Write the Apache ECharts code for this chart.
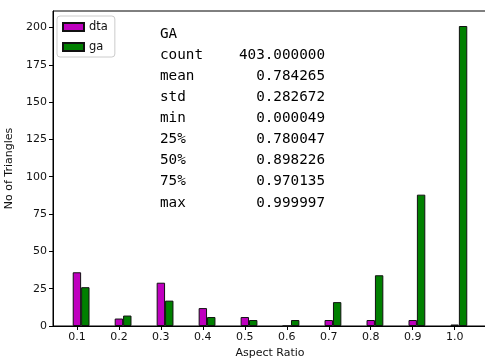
<!DOCTYPE html>
<html>
<head>
<meta charset="utf-8">
<script src="https://cdn.jsdelivr.net/npm/echarts@6/dist/echarts.min.js"></script>
<style>
html,body{margin:0;padding:0;background:#fff;}
#chart{width:485px;height:360px;}
</style>
</head>
<body>
<div id="chart"></div>
<script>
const categories = [0.1, 0.2, 0.3, 0.4, 0.5, 0.6, 0.7, 0.8, 0.9, 1.0];
const dtaValues = [36, 5, 29, 12, 6, 0, 4, 4, 4, 1];
const gaValues = [26, 7, 17, 6, 4, 4, 16, 34, 88, 201];
const seriesNames = ['dta', 'ga'];
const statTitle = 'GA';
const statLabels = ['count', 'mean', 'std', 'min', '25%', '50%', '75%', 'max'];
const statValues = ['403.000000', '0.784265', '0.282672', '0.000049', '0.780047', '0.898226', '0.970135', '0.999997'];
const xAxisName = 'Aspect Ratio';
const yAxisName = 'No of Triangles';

const chart = echarts.init(document.getElementById('chart'), null, {renderer: 'canvas'});

const font = 'DejaVu Sans';
const mono = 'DejaVu Sans Mono';

const statTexts = [];
const lineStep = 21.1;
const y0 = 34;
statTexts.push({type: 'text', x: 160, y: y0,
  style: {text: statTitle, font: '14.3px "' + mono + '"', fill: '#000', textAlign: 'left', textVerticalAlign: 'middle'}});
statLabels.forEach((l, i) => {
  statTexts.push({type: 'text', x: 160, y: y0 + (i + 1) * lineStep,
    style: {text: l, font: '14.3px "' + mono + '"', fill: '#000', textAlign: 'left', textVerticalAlign: 'middle'}});
  statTexts.push({type: 'text', x: 325, y: y0 + (i + 1) * lineStep,
    style: {text: statValues[i], font: '14.3px "' + mono + '"', fill: '#000', textAlign: 'right', textVerticalAlign: 'middle'}});
});

const option = {
  animation: false,
  backgroundColor: '#fff',
  textStyle: {fontFamily: font},
  grid: {left: 53, right: -2, top: 11, bottom: 34, show: true, borderColor: '#000', borderWidth: 1,
    containLabel: false, outerBoundsMode: 'none'},
  legend: {
    orient: 'vertical', left: 57, top: 16, padding: [5, 7, 4, 5],
    itemWidth: 21, itemHeight: 8, itemGap: 8,
    borderColor: '#ccc', borderWidth: 1, borderRadius: 3, backgroundColor: '#fff',
    icon: 'rect',
    textStyle: {fontFamily: font, fontSize: 11.5, color: '#111'},
    data: seriesNames
  },
  xAxis: [{
    type: 'value', min: 0.043, max: 1.077,
    name: xAxisName, nameLocation: 'middle', nameGap: 20,
    nameTextStyle: {fontFamily: font, fontSize: 11, color: '#111'},
    axisLine: {show: true, lineStyle: {color: '#000', width: 1}},
    axisTick: {show: true, length: 4, customValues: categories, lineStyle: {color: '#000'}},
    axisLabel: {customValues: categories, formatter: v => Number(v).toFixed(1), margin: 6,
      fontFamily: font, fontSize: 11, color: '#111'},
    splitLine: {show: false}
  }, {
    type: 'value', min: 0.023, max: 1.057, show: false,
    splitLine: {show: false}
  }],
  yAxis: {
    type: 'value', min: 0, max: 211.05, interval: 25,
    name: yAxisName, nameLocation: 'middle', nameGap: 32,
    nameTextStyle: {fontFamily: font, fontSize: 11, color: '#111'},
    axisLine: {show: true, lineStyle: {color: '#000', width: 1}},
    axisTick: {show: true, length: 4, lineStyle: {color: '#000'}},
    axisLabel: {margin: 6, fontFamily: font, fontSize: 11, color: '#111',
      showMaxLabel: false},
    splitLine: {show: false}
  },
  series: [{
    name: seriesNames[0], type: 'bar', xAxisIndex: 0, barWidth: 8.4,
    itemStyle: {color: '#bf00bf', borderColor: '#111', borderWidth: 1},
    data: categories.map((c, i) => [c, dtaValues[i]])
  }, {
    name: seriesNames[1], type: 'bar', xAxisIndex: 1, barWidth: 8.4,
    itemStyle: {color: '#008000', borderColor: '#111', borderWidth: 1},
    data: categories.map((c, i) => [c, gaValues[i]])
  }],
  graphic: statTexts
};
chart.setOption(option);
</script>
</body>
</html>
